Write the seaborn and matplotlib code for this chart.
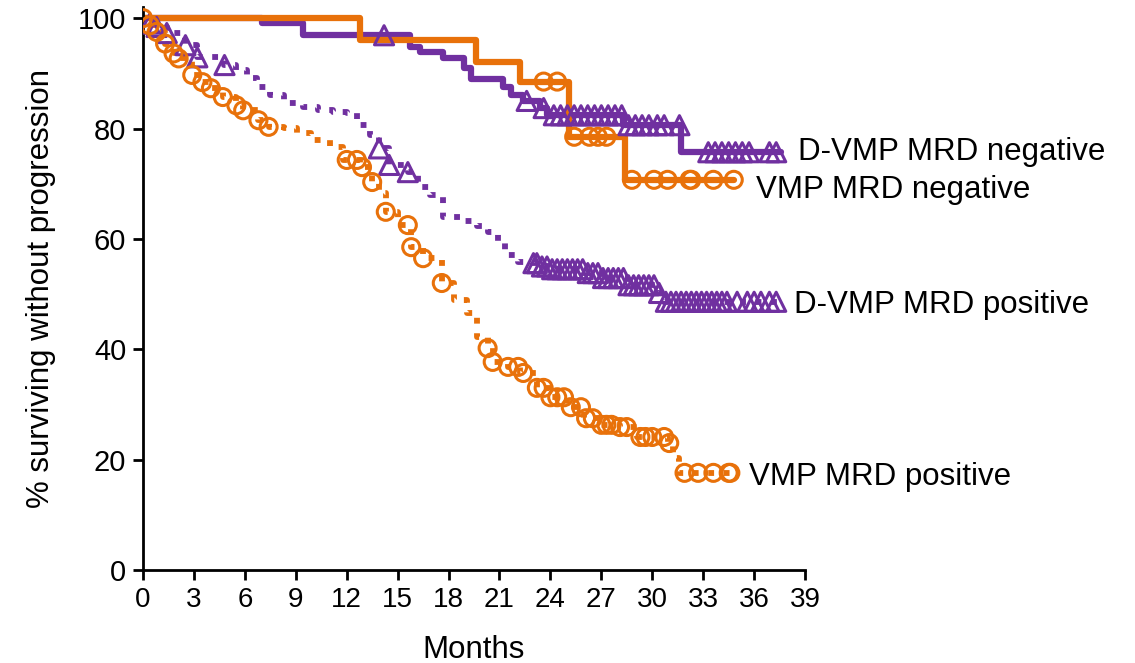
import numpy as np
import pandas as pd
import matplotlib
matplotlib.use('Agg')
import matplotlib.pyplot as plt
import seaborn as sns

# 颜色
PURPLE = '#7030A0'
ORANGE = '#E8710A'

# D-VMP MRD negative (实线, 紫色)
dvmp_neg_t = [0, 7.0, 9.4, 15.7, 16.3, 17.7, 18.9, 19.3, 21.2, 21.7, 22.4, 23.4, 23.8, 28.3, 31.7, 37.6]
dvmp_neg_v = [100, 99.2, 96.9, 94.8, 93.9, 92.7, 91.0, 88.9, 87.5, 86.0, 85.0, 83.7, 82.4, 80.6, 75.7, 75.7]
dvmp_neg_cens = [14.2, 22.6, 23.6, 24.2, 24.6, 25.0, 25.4, 25.8, 26.2, 26.6, 27.0, 27.4, 27.8, 28.2,
                 28.6, 29.0, 29.4, 29.8, 30.3, 30.7, 31.6, 33.3, 33.7, 34.1, 34.5, 34.9, 35.3, 35.7, 36.9, 37.3]

# VMP MRD negative (实线, 橙色)
vmp_neg_t = [0, 12.8, 19.6, 22.2, 25.1, 28.4, 34.8]
vmp_neg_v = [100, 96.0, 92.1, 88.5, 78.5, 70.7, 70.7]
vmp_neg_cens = [23.6, 24.4, 25.4, 26.3, 26.8, 27.3, 28.8, 30.1, 30.9, 32.2, 32.3, 33.6, 34.8]

# D-VMP MRD positive (点线, 紫色)
dvmp_pos_t = [0, 0.4, 0.8, 1.4, 2.5, 3.2, 4.8, 5.5, 6.1, 6.7, 7.5, 8.3, 9.4, 10.3, 11.2, 12.0, 12.6,
              13.4, 13.9, 14.5, 15.6, 16.2, 16.9, 17.7, 18.7, 19.7, 20.3, 20.9, 21.3, 22.1, 22.9, 23.3,
              24.0, 26.0, 27.0, 28.5, 30.3, 30.7, 37.5]
dvmp_pos_v = [100, 99.0, 98.4, 97.3, 95.1, 92.9, 91.5, 90.6, 89.1, 87.5, 86.1, 84.6, 83.9, 83.3, 83.0,
              82.8, 80.6, 78.8, 76.4, 73.4, 72.1, 69.4, 67.9, 64.0, 63.2, 62.4, 61.2, 59.4, 57.1, 55.8,
              55.6, 55.0, 54.5, 53.8, 52.9, 51.6, 50.2, 48.6, 48.6]
dvmp_pos_cens = [0.4, 0.8, 1.4, 2.5, 3.2, 4.8, 13.9, 14.5, 15.6,
                 23.0, 23.2, 23.5, 23.8, 24.1, 24.4, 24.7, 25.0, 25.3, 25.6, 25.9, 26.2, 26.5, 26.8,
                 27.1, 27.4, 27.7, 28.0, 28.3, 28.6, 28.9, 29.2, 29.5, 29.8, 30.1, 30.4, 30.8, 31.1,
                 31.4, 31.7, 32.0, 32.3, 32.6, 32.9, 33.2, 33.5, 33.8, 34.1, 34.4, 35.0, 35.6, 36.0,
                 36.4, 36.9, 37.3]

# VMP MRD positive (点线, 橙色)
vmp_pos_t = [0, 0.4, 0.8, 1.3, 1.8, 2.1, 2.9, 3.5, 4.0, 4.7, 5.5, 5.9, 6.8, 7.4, 8.3, 9.1, 9.9, 11.0,
             11.8, 12.8, 13.5, 13.9, 14.3, 15.0, 15.8, 16.5, 17.6, 18.3, 19.1, 19.7, 20.3, 20.6, 21.5,
             22.2, 23.2, 24.0, 25.0, 26.0, 27.0, 28.1, 29.1, 30.3, 30.9, 31.2, 31.6, 34.6]
vmp_pos_v = [100, 98.7, 97.5, 95.4, 93.6, 92.7, 89.7, 88.4, 87.3, 85.7, 84.2, 83.3, 81.5, 80.3, 80.1,
             79.2, 77.9, 76.6, 74.3, 73.0, 70.3, 68.3, 64.9, 62.5, 58.5, 56.5, 52.0, 48.9, 46.6, 42.2,
             40.2, 37.7, 36.8, 35.7, 33.0, 31.3, 29.5, 27.5, 26.3, 25.9, 24.1, 24.1, 23.0, 20.3, 17.6,
             17.6]
vmp_pos_cens = [0, 0.4, 0.8, 1.3, 1.8, 2.1, 2.9, 3.5, 4.0, 4.7, 5.5, 5.9, 6.8, 7.4, 12.0, 12.6, 12.9,
                13.5, 14.3, 15.6, 15.8, 16.5, 17.6, 20.3, 20.6, 21.5, 22.1, 22.4, 23.2, 23.6, 24.0,
                24.4, 24.8, 25.2, 25.8, 26.1, 26.5, 27.0, 27.3, 27.6, 28.1, 28.5, 29.3, 29.6, 30.0,
                30.7, 31.0, 31.9, 32.7, 33.6, 34.5, 34.6]

labels = ['D-VMP MRD negative', 'VMP MRD negative', 'D-VMP MRD positive', 'VMP MRD positive']

sns.set_style('white')
plt.rcParams['font.family'] = ['Liberation Sans', 'DejaVu Sans']
plt.rcParams['text.color'] = 'black'
plt.rcParams['axes.labelcolor'] = 'black'
plt.rcParams['xtick.color'] = 'black'
plt.rcParams['ytick.color'] = 'black'


def step_value(times, vals, t):
    # 阶梯函数取值 (steps-post)
    idx = np.searchsorted(times, t, side='right') - 1
    return np.asarray(vals)[idx]


fig = plt.figure(figsize=(11.35, 6.63), dpi=100)
ax = fig.add_axes([0.126, 0.1403, 0.5833, 0.849])

curves = [
    (dvmp_pos_t, dvmp_pos_v, dvmp_pos_cens, PURPLE, ':', '^'),
    (vmp_pos_t, vmp_pos_v, vmp_pos_cens, ORANGE, ':', 'o'),
    (dvmp_neg_t, dvmp_neg_v, dvmp_neg_cens, PURPLE, '-', '^'),
    (vmp_neg_t, vmp_neg_v, vmp_neg_cens, ORANGE, '-', 'o'),
]

for t, v, cens, col, ls, mk in curves:
    df = pd.DataFrame({'t': t, 'v': v})
    lw = 4.5 if ls == '-' else 4.2
    sns.lineplot(data=df, x='t', y='v', ax=ax, color=col, linewidth=lw, linestyle=ls,
                 drawstyle='steps-post', estimator=None, sort=False, legend=False)
    cdf = pd.DataFrame({'t': cens, 'v': step_value(t, v, np.array(cens))})
    sns.scatterplot(data=cdf, x='t', y='v', ax=ax, marker=mk, s=190 if mk == '^' else 150,
                    facecolors='none', edgecolor=col, linewidth=2.2, legend=False, zorder=3)

# 曲线标签
ax.text(38.6, 74.3, labels[0], fontsize=22.5, va='baseline', ha='left')
ax.text(36.1, 67.4, labels[1], fontsize=22.5, va='baseline', ha='left')
ax.text(38.35, 46.6, labels[2], fontsize=22.5, va='baseline', ha='left')
ax.text(35.7, 15.4, labels[3], fontsize=22.5, va='baseline', ha='left')

ax.set_xlim(0, 39)
ax.set_ylim(0, 102)
ax.set_xticks(np.arange(0, 40, 3))
ax.set_yticks(np.arange(0, 101, 20))
ax.tick_params(axis='both', direction='out', length=7, width=2, pad=5,
               bottom=True, left=True)
ax.tick_params(axis='x', labelsize=20)
ax.tick_params(axis='y', labelsize=21)
for side in ['top', 'right']:
    ax.spines[side].set_visible(False)
for side in ['left', 'bottom']:
    ax.spines[side].set_linewidth(2)
    ax.spines[side].set_color('black')

ax.set_xlabel('Months', fontsize=22.5, labelpad=16)
ax.set_ylabel('% surviving without progression', fontsize=22.5, labelpad=16)

fig.savefig('out.png', dpi=100)
